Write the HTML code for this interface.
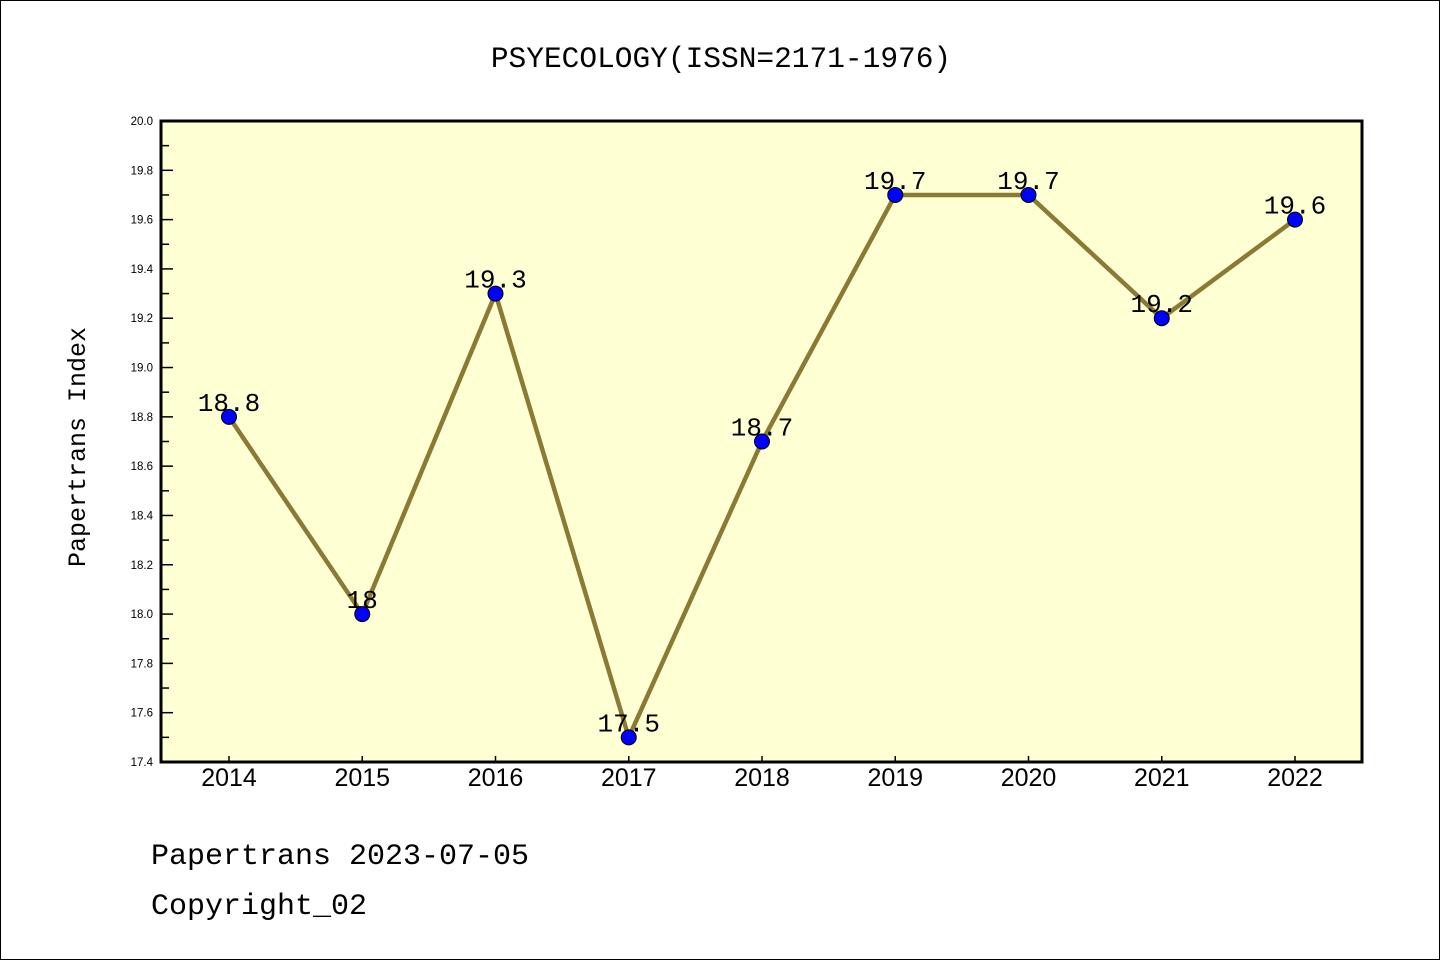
<!DOCTYPE html>
<html><head><meta charset="utf-8"><style>
body{margin:0;background:#fff}
#wrap{position:relative;width:1440px;height:960px;box-sizing:border-box;border:1px solid #000;background:#fff}
svg{position:absolute;left:0;top:0}
text{font-family:"Liberation Sans","Noto Sans CJK SC",sans-serif}
.mono{font-family:"Liberation Mono","Noto Sans CJK SC",monospace}
</style></head><body>
<div id="wrap">
<svg id="c" width="1440" height="960">
<text x="720" y="66" font-size="29.5" text-anchor="middle" class="mono">PSYECOLOGY(ISSN=2171-1976)</text>
<rect x="160" y="120" width="1201" height="641" fill="#ffffd4"/>
<text transform="translate(84,446) rotate(-90)" font-size="25" text-anchor="middle" class="mono">Papertrans Index</text>
<text x="150" y="863" font-size="30" class="mono">Papertrans 2023-07-05</text>
<text x="150" y="913" font-size="30" class="mono">Copyright_02</text>
</svg>
</div>
<script>
const years=["2014","2015","2016","2017","2018","2019","2020","2021","2022"];
const values=[18.8,18.0,19.3,17.5,18.7,19.7,19.7,19.2,19.6];
const labels=["18.8","18","19.3","17.5","18.7","19.7","19.7","19.2","19.6"];
const yTicks=["17.4","17.6","17.8","18.0","18.2","18.4","18.6","18.8","19.0","19.2","19.4","19.6","19.8","20.0"];
const ns="http://www.w3.org/2000/svg",svg=document.getElementById('c');
const L=160,R=1361,T=120,B=761,yMin=17.4,yMax=20.0;
const xS=i=>228+i*(1294-228)/(years.length-1);
const yS=v=>B-(v-yMin)/(yMax-yMin)*(B-T);
function mk(t,a){const e=document.createElementNS(ns,t);for(const k in a)e.setAttribute(k,a[k]);svg.appendChild(e);return e;}
yTicks.forEach((t,i)=>{const v=parseFloat(t),y=yS(v);
 const l=mk('line',{x1:L,x2:L+12,y1:y,y2:y,stroke:'#000','stroke-width':1.5});
 
 
 const tx=mk('text',{x:152,y:y+4,'font-size':11.5,'text-anchor':'end'});tx.textContent=t;
 
 
 if(i<yTicks.length-1){const ym=yS(v+0.1);const m=mk('line',{x1:L,x2:L+8,y1:ym,y2:ym,stroke:'#000','stroke-width':1.5});
 
 }
});
years.forEach((yr,i)=>{const x=xS(i);
 const l=mk('line',{x1:x,x2:x,y1:B,y2:B-6,stroke:'#000','stroke-width':1.5});
 
 
 const t=mk('text',{x:x,y:785,'font-size':25,'text-anchor':'middle'});t.textContent=yr;
 
 
});
const border=mk('rect',{x:L,y:T,width:R-L,height:B-T,fill:'none',stroke:'#000','stroke-width':3});


const line=mk('polyline',{points:values.map((v,i)=>xS(i)+','+yS(v)).join(' '),fill:'none',stroke:'#8b7a33','stroke-width':4.5});


values.forEach((v,i)=>{
 const c=mk('circle',{cx:xS(i),cy:yS(v),r:7.5,fill:'#0000ff',stroke:'#000','stroke-width':1});
 
 
 const t=mk('text',{x:xS(i),y:yS(v)-6,'font-size':26,'text-anchor':'middle','class':'mono'});t.textContent=labels[i];
 
 
});
</script>
</body></html>
